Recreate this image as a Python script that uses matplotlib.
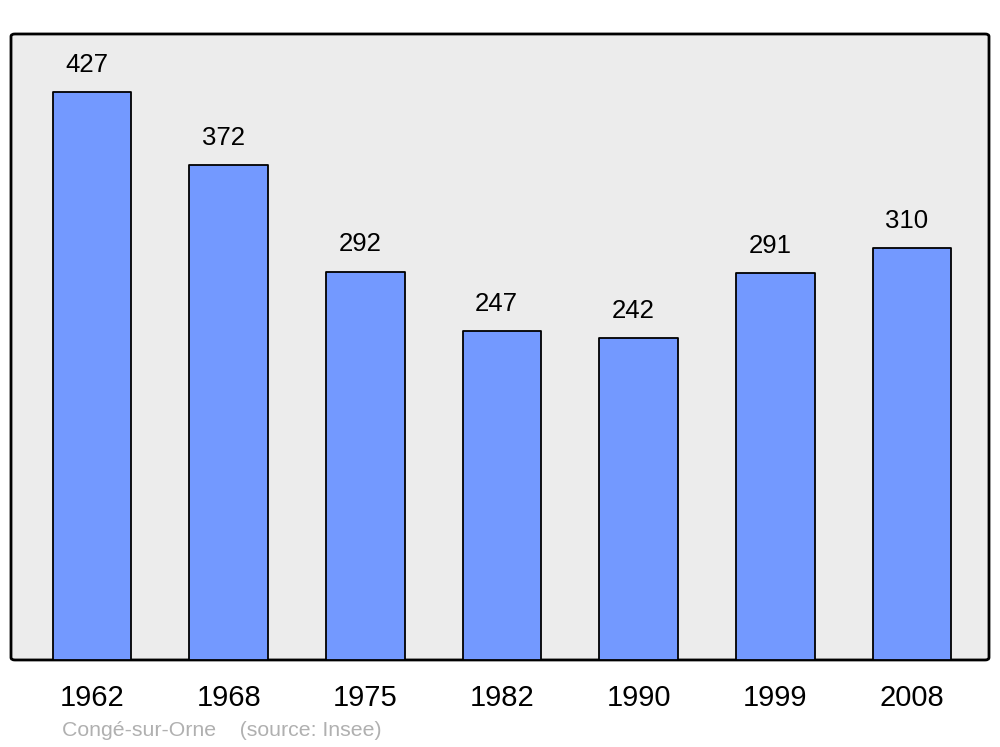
import matplotlib.pyplot as plt
from matplotlib.patches import FancyBboxPatch
import numpy as np

plt.rcParams['font.family'] = ['Liberation Sans', 'DejaVu Sans']

years = ['1962', '1968', '1975', '1982', '1990', '1999', '2008']
population = [427, 372, 292, 247, 242, 291, 310]
source_note = 'Congé-sur-Orne    (source: Insee)'

fig = plt.figure(figsize=(10, 7.47), dpi=100)
ax = fig.add_axes([0.011, 0.1165, 0.978, 0.838])
ax.set_facecolor('none')

# rounded grey frame drawn behind everything
frame = FancyBboxPatch((0, 0), 1, 1, boxstyle='round,pad=0,rounding_size=0.004',
                       transform=ax.transAxes, facecolor='#ececec', edgecolor='black',
                       linewidth=2, zorder=0, clip_on=False)
ax.add_patch(frame)

x = np.arange(len(years))
bars = ax.bar(x, population, width=0.575, color='#7399ff', edgecolor='black',
              linewidth=1.3, zorder=2)
for b in bars:
    b.set_joinstyle('round')

for xi, v in zip(x, population):
    ax.annotate(str(v), (xi, v), xytext=(-4, 19.5), textcoords='offset points',
                ha='center', va='center', fontsize=18.5)

ax.set_xlim(-0.593, 6.563)
ax.set_ylim(0, 470.6)
ax.set_yticks([])
ax.set_xticks(x)
ax.set_xticklabels(years, fontsize=21)
ax.tick_params(axis='x', length=0, pad=17)
for s in ax.spines.values():
    s.set_visible(False)

fig.text(0.062, 0.0225, source_note, fontsize=15.3, color='#b0b0b0', ha='left', va='center')

fig.savefig('out.png', dpi=100)
